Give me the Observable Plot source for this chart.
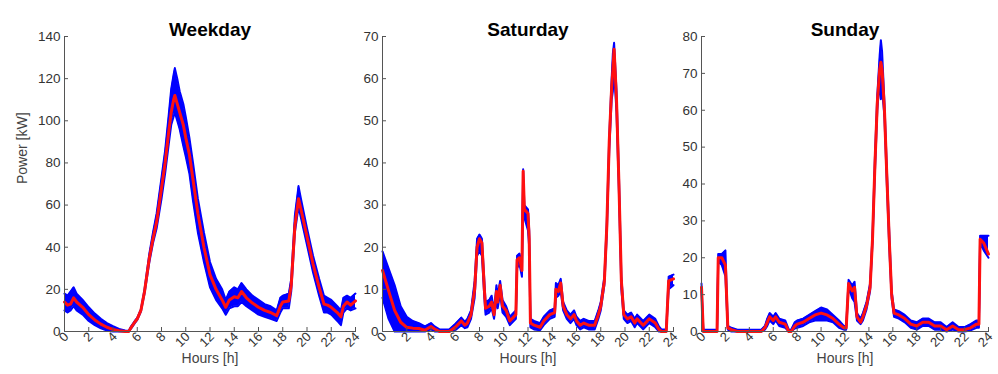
<!DOCTYPE html>
<html>
<head>
<meta charset="utf-8">
<script src="https://cdn.jsdelivr.net/npm/d3@7"></script>
<script src="https://cdn.jsdelivr.net/npm/@observablehq/plot@0.6"></script>
<style>
  html, body { margin: 0; padding: 0; background: #fff; }
  #wrap { position: relative; width: 998px; height: 374px; overflow: hidden; }
  #wrap svg { position: absolute; top: 0; }
</style>
</head>
<body>
<div id="wrap"></div>
<script>
// ---------- Data ----------
const titles = ["Weekday", "Saturday", "Sunday"];
const hourTicks = [0, 2, 4, 6, 8, 10, 12, 14, 16, 18, 20, 22, 24];
const weekdayTicks = [0, 20, 40, 60, 80, 100, 120, 140];
const saturdayTicks = [0, 10, 20, 30, 40, 50, 60, 70];
const sundayTicks = [0, 10, 20, 30, 40, 50, 60, 70, 80];

const weekdayHours = [0,0.25,0.5,0.75,1,1.5,2,2.5,3,3.5,4,4.5,5,5.3,5.5,5.8,6,6.3,6.6,7,7.3,7.6,8,8.3,8.6,8.8,9,9.1,9.3,9.5,9.8,10,10.3,10.6,11,11.5,12,12.5,13,13.3,13.6,14,14.3,14.6,15,15.5,16,16.5,17,17.5,17.8,18,18.5,18.7,19,19.3,19.5,20,20.5,21,21.4,21.7,22,22.5,22.8,23,23.3,23.6,24];
const weekdayMean  = [14,12.5,13,16,14,11.5,8,5.5,3.5,2,1,0.4,0,0,2,4.5,6,10,19,35,44,52,68,80,95,104,110,112,108,104,98,92,84,72,56,40,27,20,15,11.5,15,16.5,16,19,16,13.5,11.5,10,9,7.5,12,14,14.5,22,50,63,58,45,32,21,13,12.5,11.5,9,7,12,14,12.5,14.5];
const weekdayLow   = [10,9,10,12,10,8,5,3,1.5,0.5,0,0,0,0,1.5,4,5.5,9.5,18,33,42,49,63,75,89,98,102,104,100,96,88,83,75,62,47,33,21,15,11,8,11,12,12,14,12,10,8,7,6,5,9,11,11,19,47,59,54,41,28,17,9,9,8,5,3,9,11,10,11];
const weekdayHigh  = [18,17,19,21,18,15,11.5,8.5,6,4,2.5,1.2,0.5,0.3,2.5,5,6.5,10.5,20,37,47,56,73,86,103,115,122,125,120,114,108,102,92,80,63,47,33,25,20,15,19,21,20,23,20,17,15,13,12,10,16,17,18,25,55,69,63,49,36,25,17,16,15,12,10,16,17,16,18];

const saturdayHours = [0,0.5,1,1.5,2,2.5,3,3.5,4,4.3,4.7,5.5,6,6.5,6.8,7,7.3,7.6,7.8,8,8.2,8.4,8.5,8.8,9,9.2,9.4,9.5,9.7,9.9,10.2,10.5,11,11.1,11.3,11.5,11.6,11.7,12,12.1,12.2,12.5,13,13.3,13.8,14.2,14.3,14.5,14.7,14.9,15.2,15.5,15.8,16,16.3,16.6,17,17.5,17.8,18,18.3,18.5,18.7,18.9,19,19.1,19.3,19.5,19.7,19.9,20.2,20.5,20.8,21,21.5,22,22.5,22.8,23,23.4,23.6,24];
const saturdayMean  = [14.5,9.7,5,2.2,1,0.8,0.7,0.3,1.2,0.6,0,0,1,2.5,1.5,2,4,10,20,22,21,10,5.5,6,7,4,9.5,7,11,6,5,2.5,4,17,17.5,14.5,38,29,28,22,2,1.5,1,2.5,4,4.5,10,9.5,11.5,6,4,3,4,2.5,1.5,2,1.5,1.5,4,6,12,25,45,58,62,67,55,35,12,4,3,3.5,2,3,1.5,3,2,0.5,0,0,12,12.5];
const saturdayLow   = [8,3,0,0,0,0,0,0,0.5,0,0,0,0.3,1.5,0.8,1,3,8,18,19,18,8,4,4.5,5.5,3,7.5,5.5,9,4.5,3.5,1.5,3,15,16,13,36,27,24,20,1,0.5,0.3,1.5,3,3.5,8,8.5,9.5,5,3,2,3,1.5,0.5,1,0.5,0.5,3,5,11,23,43,55,57,62,52,33,10,3,2,2.5,1,2,0.5,2,1,0,0,0,10,11];
const saturdayHigh  = [19,15,11,6,3.5,2.5,2,1.2,2,1.2,0.5,0.5,1.8,3.3,2.3,3,5,12,22,23,22,12,7,7.5,8.5,5,11,8.5,12,7.5,6,3.5,5,18,18.5,16,38.5,30,29,24,3,2.5,2,3.5,5,5.5,11.5,11,12.5,7,5,4,5,3.5,2.5,3,2.5,2.5,5,7,13,26,46,60,66,68.5,57,37,13,5,4,4.5,3,4,2.5,4,3,1.2,0.5,0.5,13,13.5];

const sundayHours = [0,0.15,1.3,1.4,1.7,2,2.2,2.5,3,5,5.3,5.5,5.7,6,6.2,6.5,7,7.3,7.5,7.8,8,8.5,9,9.5,10,10.5,11,11.5,11.9,12.1,12.3,12.6,12.8,13,13.3,13.5,13.8,14.1,14.3,14.5,14.7,14.9,15,15.1,15.3,15.5,15.7,15.9,16.1,16.5,17,17.5,18,18.5,19,19.5,20,20.5,21,21.5,22,22.5,23,23.2,23.3,23.6,24];
const sundayMean  = [12,0,0,20,20,18,1,0.5,0,0,1,2.5,4,3,4,2.5,2,0,0,1.5,2,2.5,3.5,4.5,5,4.5,3.5,2,1,1,13,11,12,4,2.5,4,7,12,25,45,62,71,73,71,60,42,25,10,5,4.5,3.5,2,1.5,2.5,2.5,1.5,1.5,0.5,1.5,0.5,0.5,1,2,2,25,24,21];
const sundayLow   = [11,0,0,19,18,15,0.5,0,0,0,0.5,1.5,3,2,3,1.5,1,0,0,0.8,1,1.5,2.5,3,3,3,2.5,1,0.5,0.5,12,9,8,3,2,3,6,11,24,43,60,68,63,66,58,40,23,9,4,3.5,2.5,1,0.5,1.5,1.5,0.5,0.5,0,0.5,0,0,0.3,1,1,24,22,20];
const sundayHigh  = [13,0.5,0.5,21,21,22,1.5,1,0.5,0.5,1.5,3.5,5,4,5,3.5,3,0.5,0.5,2.5,3,3.5,4.5,5.5,6.5,6,4.5,3,1.5,1.5,14,12.5,13.5,5,3.5,5,8,13,26,47,64,75,79,76,62,44,27,11,6,5.5,4.5,3,2.5,3.5,3.5,2.5,2.5,1.2,2.5,1.2,1.2,2,3,3,26,26,26];

// ---------- Drawing ----------
const font = "'Liberation Sans', Arial, Helvetica, sans-serif";
const H = 374, mTop = 36, mBottom = 43;

function rowsOf(hours, mean, lo, hi) {
  return hours.map((h, i) => ({h, mean: mean[i], lo: lo[i], hi: hi[i]}));
}

function panel({rows, yMax, yTicks, title, left, width, marginLeft, marginRight, showYLabel}) {
  const plotW = width - marginLeft - marginRight;
  const plotH = H - mTop - mBottom;
  const marks = [
    Plot.areaY(rows, {x: "h", y1: "lo", y2: "hi", fill: "#0000ff"}),
    Plot.line(rows, {x: "h", y: "lo", stroke: "#0000ff", strokeWidth: 2}),
    Plot.line(rows, {x: "h", y: "hi", stroke: "#0000ff", strokeWidth: 2}),
    Plot.line(rows, {x: "h", y: "mean", stroke: "#ff1010", strokeWidth: 3}),
    Plot.frame({anchor: "left", stroke: "#555"}),
    Plot.frame({anchor: "bottom", stroke: "#555"}),
    Plot.tickY(yTicks, {y: d => d, insetRight: plotW - 4, stroke: "#555"}),
    Plot.tickX(hourTicks, {x: d => d, insetTop: plotH - 4, stroke: "#555"}),
    Plot.axisY({ticks: yTicks, tickSize: 0, tickPadding: 4, label: null, fontSize: 13.5, fill: "#333"}),
    Plot.axisX({ticks: hourTicks, tickSize: 0, tickPadding: 3, dx: 2, tickRotate: -45, label: null, fontSize: 13, fill: "#333"}),
    Plot.text([title], {frameAnchor: "top", dy: -14, text: d => d, fontWeight: "bold", fontSize: 19, fill: "#000"}),
    Plot.text(["Hours [h]"], {frameAnchor: "bottom", dy: 31, text: d => d, fontSize: 14, fill: "#444"})
  ];
  if (showYLabel) {
    marks.push(Plot.text(["Power [kW]"], {frameAnchor: "left", dx: -42, rotate: -90, text: d => d, fontSize: 14, fill: "#444"}));
  }
  const svg = Plot.plot({
    width, height: H,
    marginTop: mTop, marginBottom: mBottom, marginLeft, marginRight,
    style: {fontFamily: font, background: "transparent", overflow: "visible"},
    x: {domain: [0, 24]},
    y: {domain: [0, yMax]},
    marks
  });
  svg.style.left = left + "px";
  return svg;
}

const wrap = document.getElementById("wrap");
wrap.appendChild(panel({
  rows: rowsOf(weekdayHours, weekdayMean, weekdayLow, weekdayHigh),
  yMax: 140, yTicks: weekdayTicks, title: titles[0],
  left: 0, width: 360, marginLeft: 64, marginRight: 5, showYLabel: true
}));
wrap.appendChild(panel({
  rows: rowsOf(saturdayHours, saturdayMean, saturdayLow, saturdayHigh),
  yMax: 70, yTicks: saturdayTicks, title: titles[1],
  left: 360, width: 320, marginLeft: 22, marginRight: 7, showYLabel: false
}));
wrap.appendChild(panel({
  rows: rowsOf(sundayHours, sundayMean, sundayLow, sundayHigh),
  yMax: 80, yTicks: sundayTicks, title: titles[2],
  left: 680, width: 318, marginLeft: 21, marginRight: 10, showYLabel: false
}));
</script>
</body>
</html>
